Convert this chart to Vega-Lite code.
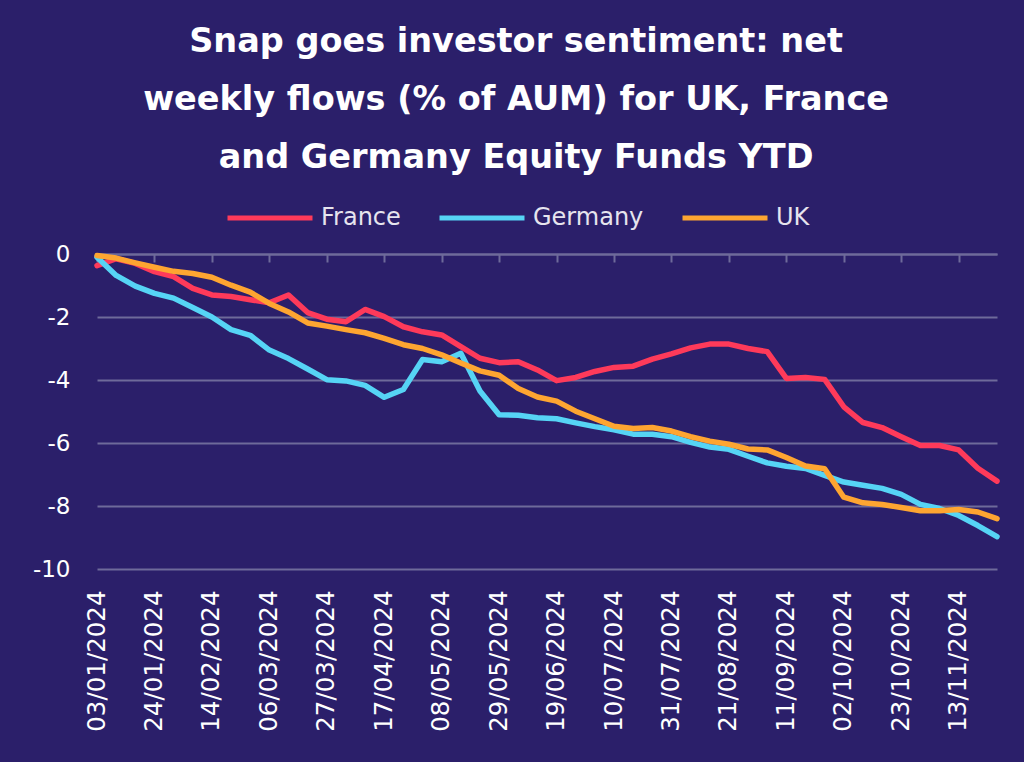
{
  "$schema": "https://vega.github.io/schema/vega-lite/v6.json",
  "width": 900,
  "height": 315,
  "autosize": "none",
  "padding": {"left": 97, "top": 254, "right": 27, "bottom": 193},
  "background": "#2b1f6a",
  "title": {
    "text": ["Snap goes investor sentiment: net", "weekly flows (% of AUM) for UK, France", "and Germany Equity Funds YTD"],
    "anchor": "middle",
    "frame": "bounds",
    "font": "DejaVu Sans",
    "fontSize": 33.5,
    "fontWeight": "bold",
    "color": "#ffffff",
    "lineHeight": 58,
    "offset": -2
  },
  "data": {
    "values": [
      {"date": "2024-01-03", "France": -0.37, "Germany": -0.1, "UK": -0.05},
      {"date": "2024-01-10", "France": -0.15, "Germany": -0.68, "UK": -0.13},
      {"date": "2024-01-17", "France": -0.3, "Germany": -1.02, "UK": -0.28},
      {"date": "2024-01-24", "France": -0.56, "Germany": -1.25, "UK": -0.42},
      {"date": "2024-01-31", "France": -0.72, "Germany": -1.4, "UK": -0.55},
      {"date": "2024-02-07", "France": -1.09, "Germany": -1.7, "UK": -0.62},
      {"date": "2024-02-14", "France": -1.3, "Germany": -2.0, "UK": -0.74},
      {"date": "2024-02-21", "France": -1.35, "Germany": -2.4, "UK": -0.99},
      {"date": "2024-02-28", "France": -1.45, "Germany": -2.58, "UK": -1.21},
      {"date": "2024-03-06", "France": -1.55, "Germany": -3.05, "UK": -1.57},
      {"date": "2024-03-13", "France": -1.3, "Germany": -3.32, "UK": -1.84},
      {"date": "2024-03-20", "France": -1.86, "Germany": -3.65, "UK": -2.19},
      {"date": "2024-03-27", "France": -2.07, "Germany": -3.99, "UK": -2.29},
      {"date": "2024-04-03", "France": -2.15, "Germany": -4.03, "UK": -2.4},
      {"date": "2024-04-10", "France": -1.76, "Germany": -4.17, "UK": -2.5},
      {"date": "2024-04-17", "France": -1.99, "Germany": -4.55, "UK": -2.68},
      {"date": "2024-04-24", "France": -2.31, "Germany": -4.3, "UK": -2.88},
      {"date": "2024-05-01", "France": -2.47, "Germany": -3.35, "UK": -3.0},
      {"date": "2024-05-08", "France": -2.57, "Germany": -3.42, "UK": -3.2},
      {"date": "2024-05-15", "France": -2.94, "Germany": -3.15, "UK": -3.46},
      {"date": "2024-05-22", "France": -3.31, "Germany": -4.35, "UK": -3.71},
      {"date": "2024-05-29", "France": -3.45, "Germany": -5.1, "UK": -3.85},
      {"date": "2024-06-05", "France": -3.42, "Germany": -5.12, "UK": -4.27},
      {"date": "2024-06-12", "France": -3.68, "Germany": -5.2, "UK": -4.54},
      {"date": "2024-06-19", "France": -4.02, "Germany": -5.23, "UK": -4.67},
      {"date": "2024-06-26", "France": -3.92, "Germany": -5.36, "UK": -4.99},
      {"date": "2024-07-03", "France": -3.73, "Germany": -5.48, "UK": -5.23},
      {"date": "2024-07-10", "France": -3.6, "Germany": -5.58, "UK": -5.47},
      {"date": "2024-07-17", "France": -3.56, "Germany": -5.72, "UK": -5.54},
      {"date": "2024-07-24", "France": -3.34, "Germany": -5.72, "UK": -5.51},
      {"date": "2024-07-31", "France": -3.17, "Germany": -5.8, "UK": -5.62},
      {"date": "2024-08-07", "France": -2.98, "Germany": -5.98, "UK": -5.8},
      {"date": "2024-08-14", "France": -2.86, "Germany": -6.13, "UK": -5.94},
      {"date": "2024-08-21", "France": -2.86, "Germany": -6.2, "UK": -6.04},
      {"date": "2024-08-28", "France": -3.0, "Germany": -6.42, "UK": -6.19},
      {"date": "2024-09-04", "France": -3.1, "Germany": -6.63, "UK": -6.22},
      {"date": "2024-09-11", "France": -3.95, "Germany": -6.74, "UK": -6.46},
      {"date": "2024-09-18", "France": -3.92, "Germany": -6.81, "UK": -6.73},
      {"date": "2024-09-25", "France": -3.98, "Germany": -7.03, "UK": -6.82},
      {"date": "2024-10-02", "France": -4.85, "Germany": -7.24, "UK": -7.72},
      {"date": "2024-10-09", "France": -5.35, "Germany": -7.34, "UK": -7.9},
      {"date": "2024-10-16", "France": -5.51, "Germany": -7.44, "UK": -7.95},
      {"date": "2024-10-23", "France": -5.8, "Germany": -7.63, "UK": -8.05},
      {"date": "2024-10-30", "France": -6.08, "Germany": -7.95, "UK": -8.15},
      {"date": "2024-11-06", "France": -6.08, "Germany": -8.08, "UK": -8.15},
      {"date": "2024-11-13", "France": -6.22, "Germany": -8.3, "UK": -8.11},
      {"date": "2024-11-20", "France": -6.8, "Germany": -8.62, "UK": -8.19},
      {"date": "2024-11-27", "France": -7.21, "Germany": -8.97, "UK": -8.4}
    ]
  },
  "transform": [{"fold": ["France", "Germany", "UK"], "as": ["series", "value"]}],
  "mark": {"type": "line", "strokeWidth": 5.5, "strokeJoin": "round", "strokeCap": "round"},
  "encoding": {
    "x": {
      "field": "date",
      "type": "temporal",
      "scale": {"type": "utc", "nice": false},
      "axis": {
        "orient": "bottom",
        "offset": -315,
        "title": null,
        "grid": false,
        "domainColor": "#6e6a9a",
        "domainWidth": 2,
        "tickColor": "#6e6a9a",
        "tickWidth": 2,
        "tickSize": 8,
        "labelAngle": -90,
        "labelAlign": "right",
        "labelBaseline": "middle",
        "labelPadding": 328,
        "labelOverlap": false,
        "labelFlush": false,
        "labelColor": "#ffffff",
        "labelFont": "DejaVu Sans",
        "labelFontSize": 24.5,
        "labelExpr": "utcFormat(datum.value, '%d/%m/%Y')",
        "values": [
          {"year": 2024, "month": 1, "date": 3, "utc": true},
          {"year": 2024, "month": 1, "date": 24, "utc": true},
          {"year": 2024, "month": 2, "date": 14, "utc": true},
          {"year": 2024, "month": 3, "date": 6, "utc": true},
          {"year": 2024, "month": 3, "date": 27, "utc": true},
          {"year": 2024, "month": 4, "date": 17, "utc": true},
          {"year": 2024, "month": 5, "date": 8, "utc": true},
          {"year": 2024, "month": 5, "date": 29, "utc": true},
          {"year": 2024, "month": 6, "date": 19, "utc": true},
          {"year": 2024, "month": 7, "date": 10, "utc": true},
          {"year": 2024, "month": 7, "date": 31, "utc": true},
          {"year": 2024, "month": 8, "date": 21, "utc": true},
          {"year": 2024, "month": 9, "date": 11, "utc": true},
          {"year": 2024, "month": 10, "date": 2, "utc": true},
          {"year": 2024, "month": 10, "date": 23, "utc": true},
          {"year": 2024, "month": 11, "date": 13, "utc": true}
        ]
      }
    },
    "y": {
      "field": "value",
      "type": "quantitative",
      "scale": {"domain": [-10, 0], "nice": false},
      "axis": {
        "title": null,
        "values": [0, -2, -4, -6, -8, -10],
        "grid": true,
        "gridColor": "#6e6a9a",
        "gridWidth": 2,
        "domain": false,
        "ticks": false,
        "labelColor": "#ffffff",
        "labelFont": "DejaVu Sans",
        "labelFontSize": 23,
        "labelPadding": 27,
        "labelExpr": "'' + datum.value"
      }
    },
    "color": {
      "field": "series",
      "type": "nominal",
      "scale": {"domain": ["France", "Germany", "UK"], "range": ["#fe3a5a", "#56d4f5", "#fea531"]},
      "legend": {
        "title": null,
        "orient": "none",
        "direction": "horizontal",
        "legendX": 128,
        "legendY": -81,
        "symbolType": "stroke",
        "symbolSize": 7225,
        "symbolStrokeWidth": 5,
        "labelFont": "DejaVu Sans",
        "labelFontSize": 24,
        "labelColor": "#e6e4ee",
        "labelOffset": 6,
        "columnPadding": 28
      }
    }
  },
  "config": {"view": {"stroke": null}}
}
